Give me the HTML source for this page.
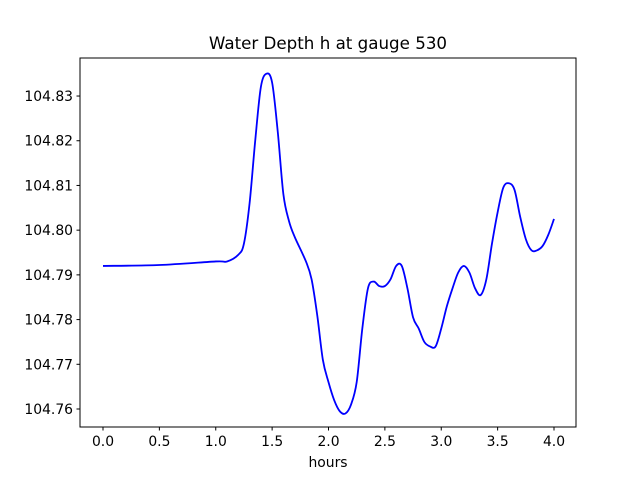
<!DOCTYPE html>
<html><head><meta charset="utf-8"><style>body{margin:0;background:#fff}svg{display:block;font-family:"DejaVu Sans","Liberation Sans",sans-serif}</style></head>
<body>
<svg id="chart" width="640" height="480">
<rect width="640" height="480" fill="#fff"/>
<text x="328" y="49" text-anchor="middle" font-size="16.7">Water Depth h at gauge 530</text>
<g id="axes"></g>
<rect x="80" y="58" width="496" height="369" fill="none" stroke="#000" stroke-width="1"/>
<text x="328" y="467" text-anchor="middle" font-size="13.9">hours</text>
</svg>
<script>
const times=[0,0.5,1.0,1.1,1.2,1.25,1.3,1.35,1.4,1.45,1.5,1.55,1.6,1.65,1.7,1.8,1.85,1.9,1.95,2.0,2.05,2.1,2.15,2.2,2.25,2.3,2.35,2.4,2.45,2.5,2.55,2.6,2.65,2.7,2.75,2.8,2.85,2.9,2.95,3.0,3.05,3.1,3.15,3.2,3.25,3.3,3.35,3.4,3.45,3.5,3.55,3.6,3.65,3.7,3.75,3.8,3.85,3.9,3.95,4.0];
const depths=[104.792,104.7922,104.793,104.793,104.7945,104.797,104.806,104.82,104.832,104.835,104.833,104.822,104.808,104.802,104.7985,104.793,104.789,104.781,104.771,104.766,104.762,104.7595,104.759,104.761,104.766,104.778,104.787,104.7885,104.7875,104.7875,104.789,104.792,104.792,104.787,104.7805,104.778,104.775,104.774,104.774,104.778,104.783,104.787,104.7905,104.792,104.7905,104.787,104.7855,104.789,104.797,104.804,104.8095,104.8105,104.809,104.803,104.798,104.7955,104.7955,104.7965,104.799,104.8025];
const xTicks=[0,0.5,1.0,1.5,2.0,2.5,3.0,3.5,4.0];
const yTicks=[104.76,104.77,104.78,104.79,104.80,104.81,104.82,104.83];
const NS="http://www.w3.org/2000/svg";
const X=t=>103+t*112.75;
const Y=v=>409-(v-104.76)*4471;
const g=document.getElementById('axes');
function mk(tag,attrs){const e=document.createElementNS(NS,tag);for(const k in attrs)e.setAttribute(k,attrs[k]);g.appendChild(e);return e;}
xTicks.forEach(t=>{
 const l=mk('line',{x1:X(t),x2:X(t),y1:427,y2:430.5,stroke:'#000'});
 
 
 const tx=mk('text',{x:X(t),y:446,'text-anchor':'middle','font-size':13.9});
 tx.textContent=t.toFixed(1);
 
 
});
yTicks.forEach(v=>{
 const l=mk('line',{x1:76.5,x2:80,y1:Y(v),y2:Y(v),stroke:'#000'});
 
 
 const tx=mk('text',{x:73,y:Y(v)+5,'text-anchor':'end','font-size':13.9});
 tx.textContent=v.toFixed(2);
 
 
});
const pts=times.map((t,i)=>[X(t),Y(depths[i])]);
let d='M'+pts[0][0]+','+pts[0][1];
for(let i=0;i<pts.length-1;i++){
 const p0=pts[Math.max(i-1,0)],p1=pts[i],p2=pts[i+1],p3=pts[Math.min(i+2,pts.length-1)];
 const c1=[p1[0]+(p2[0]-p0[0])/6,p1[1]+(p2[1]-p0[1])/6];
 const c2=[p2[0]-(p3[0]-p1[0])/6,p2[1]-(p3[1]-p1[1])/6];
 d+=' C'+c1[0]+','+c1[1]+' '+c2[0]+','+c2[1]+' '+p2[0]+','+p2[1];
}
const p=mk('path',{d:d,fill:'none',stroke:'#0000ff','stroke-width':1.8,'stroke-linejoin':'round'});


</script>
</body></html>
